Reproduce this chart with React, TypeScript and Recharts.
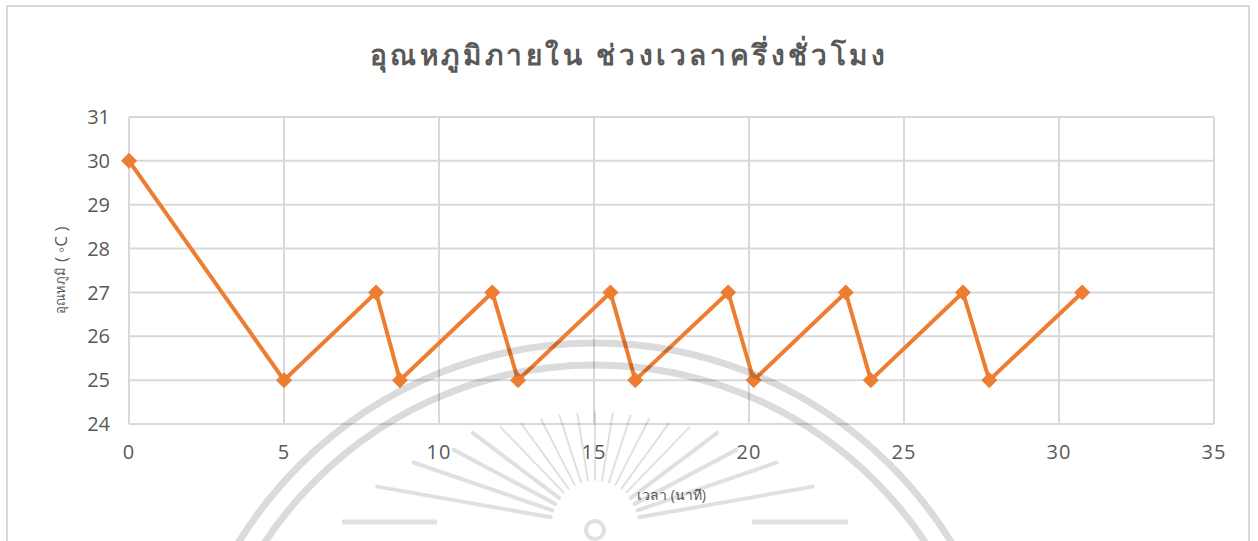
import React from "react";
import { LineChart, Line, XAxis, YAxis, CartesianGrid, Label } from "recharts";

const timeMinutes = [0, 5, 7.97, 8.74, 11.72, 12.55, 15.53, 16.33, 19.33, 20.15, 23.12, 23.93, 26.9, 27.75, 30.75];
const temperatures = [30, 25, 27, 25, 27, 25, 27, 25, 27, 25, 27, 25, 27, 25, 27];
const xTicks = [0, 5, 10, 15, 20, 25, 30, 35];
const yTicks = [24, 25, 26, 27, 28, 29, 30, 31];

const titleText = "อุณหภูมิภายใน ช่วงเวลาครึ่งชั่วโมง";
const xTitle = "เวลา (นาที)";
const yTitleThai = "อุณหภูมิ";
const yTitleUnit = " ( ◦C )";

const data = timeMinutes.map((t, i) => ({ t, temp: temperatures[i] }));

const ORANGE = "#ED7D31";
const GRID = "#d9d9d9";
const TEXT = "#595959";
const FONT = "'Open Sans', 'Noto Sans', sans-serif";

const Diamond = (props: any) => {
  const { cx, cy, index } = props;
  if (cx == null || cy == null) return null;
  const r = 7.5;
  return (
    <polygon
      key={`d-${index}`}
      points={`${cx},${cy - r} ${cx + r},${cy} ${cx},${cy + r} ${cx - r},${cy}`}
      fill={ORANGE}
      stroke={ORANGE}
      strokeWidth={1}
    />
  );
};

// decorative watermark (seal) overlay
const rayAngles = [0, 9, 18, 27, 36, 44, 53, 62, 71, 80];
const rayLengths = [113, 113, 115, 119, 125, 136, 153, 160, 192, 221];

const Watermark = () => {
  const cx = 595;
  const cy = 525;
  const rays: React.ReactNode[] = [];
  rayAngles.forEach((a, i) => {
    [1, -1].forEach((s) => {
      if (a === 0 && s === -1) return;
      const rad = (s * a * Math.PI) / 180;
      const r0 = 45;
      const r1 = rayLengths[i];
      rays.push(
        <line
          key={`r${i}${s}`}
          x1={cx + Math.sin(rad) * r0}
          y1={cy - Math.cos(rad) * r0}
          x2={cx + Math.sin(rad) * r1}
          y2={cy - Math.cos(rad) * r1}
          stroke="#000"
          strokeOpacity={0.12}
          strokeWidth={a > 50 ? 4 : 2}
          strokeLinecap="round"
        />
      );
    });
  });
  return (
    <svg
      width={1258}
      height={541}
      style={{ position: "absolute", left: 0, top: 0, pointerEvents: "none" }}
    >
      <circle cx={595} cy={761} r={418} fill="none" stroke="#000" strokeOpacity={0.14} strokeWidth={7} />
      <circle cx={595} cy={761} r={396} fill="none" stroke="#000" strokeOpacity={0.14} strokeWidth={7} />
      {rays}
      <circle cx={595} cy={530} r={9} fill="none" stroke="#000" strokeOpacity={0.12} strokeWidth={4} />
      <line x1={342} y1={522} x2={437} y2={522} stroke="#000" strokeOpacity={0.12} strokeWidth={5} />
      <line x1={752} y1={522} x2={848} y2={522} stroke="#000" strokeOpacity={0.12} strokeWidth={5} />
    </svg>
  );
};

export default function App() {
  return (
    <div style={{ position: "absolute", left: 0, top: 0, width: 1258, height: 541, overflow: "hidden", background: "#fff" }}>
      <div
        style={{
          position: "absolute",
          left: 6,
          top: 5,
          width: 1244,
          height: 536,
          borderTop: `2px solid ${GRID}`,
          borderLeft: `2px solid ${GRID}`,
          borderRight: `2px solid ${GRID}`,
          boxSizing: "border-box",
        }}
      />
      <div
        style={{
          position: "absolute",
          left: 0,
          top: 33,
          width: 1258,
          textAlign: "center",
          fontFamily: FONT,
          fontSize: 28,
          fontWeight: 700,
          letterSpacing: 3.6,
          color: TEXT,
        }}
      >
        {titleText}
      </div>
      <div style={{ position: "absolute", left: 0, top: 0 }}>
        <LineChart width={1258} height={541} data={data} margin={{ top: 117, right: 44, bottom: 0, left: 0 }}>
          <CartesianGrid stroke={GRID} strokeWidth={2} horizontalValues={yTicks} verticalValues={xTicks} />
          <XAxis
            dataKey="t"
            type="number"
            domain={[0, 35]}
            ticks={xTicks}
            height={117}
            axisLine={false}
            tickLine={false}
            tickSize={0}
            tickMargin={21}
            interval={0}
            tick={{ fill: TEXT, fontSize: 20, fontFamily: FONT, letterSpacing: 1 }}
          >
            <Label
              value={xTitle}
              position="insideBottom"
              offset={41}
              style={{ fill: TEXT, fontSize: 14, fontFamily: FONT }}
            />
          </XAxis>
          <YAxis
            type="number"
            domain={[24, 31]}
            ticks={yTicks}
            width={129}
            axisLine={false}
            tickLine={false}
            tickSize={0}
            tickMargin={19}
            interval={0}
            tick={{ fill: TEXT, fontSize: 20, fontFamily: FONT }}
          >
            <Label
              content={() => (
                <text
                  x={60}
                  y={270}
                  transform="rotate(-90 60 270)"
                  textAnchor="middle"
                  dominantBaseline="central"
                  fill={TEXT}
                  fontFamily={FONT}
                >
                  <tspan fontSize={13}>{yTitleThai}</tspan>
                  <tspan fontSize={17}>{yTitleUnit}</tspan>
                </text>
              )}
            />
          </YAxis>
          <Line
            type="linear"
            dataKey="temp"
            stroke={ORANGE}
            strokeWidth={4}
            dot={<Diamond />}
            activeDot={false}
            isAnimationActive={false}
          />
        </LineChart>
      </div>
      <Watermark />
    </div>
  );
}
